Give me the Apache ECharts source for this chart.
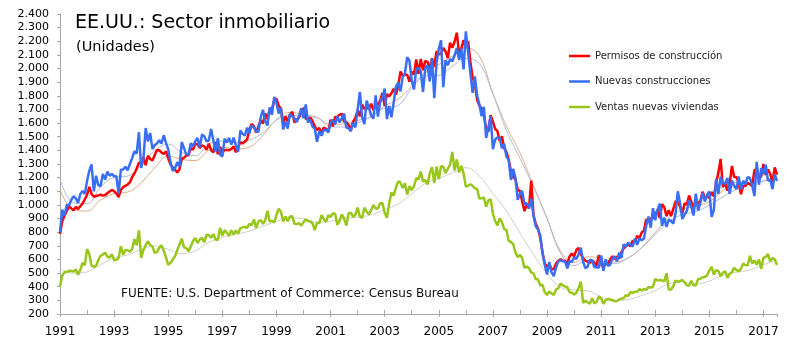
<!DOCTYPE html>
<html>
<head>
<meta charset="utf-8">
<script src="https://cdn.jsdelivr.net/npm/echarts@6/dist/echarts.min.js"></script>
<style>
  html, body { margin: 0; padding: 0; background: #fff; }
  #main { width: 800px; height: 351px; }
</style>
</head>
<body>
<div id="main"></div>
<script>
// datos mensuales, ene 1991 - jul 2017 (miles, tasa anualizada)
const inicio = 1991;

const permisos = [
  786, 880, 920, 955, 990, 975, 960, 985, 970, 990, 1010, 1040,
  1073, 1133, 1080, 1060, 1065, 1070, 1075, 1068, 1072, 1085, 1098, 1110,
  1100, 1085, 1058, 1110, 1130, 1140, 1150, 1165, 1205, 1230, 1265, 1310,
  1308, 1350, 1292, 1361, 1337, 1325, 1364, 1403, 1401, 1385, 1373, 1393,
  1341, 1298, 1274, 1259, 1238, 1262, 1336, 1347, 1361, 1366, 1417, 1405,
  1448, 1444, 1418, 1436, 1429, 1404, 1449, 1402, 1385, 1459, 1372, 1426,
  1380, 1402, 1402, 1401, 1410, 1429, 1386, 1423, 1460, 1450, 1465, 1481,
  1551, 1593, 1578, 1530, 1576, 1620, 1597, 1670, 1629, 1700, 1702, 1763,
  1780, 1726, 1707, 1597, 1650, 1612, 1662, 1684, 1604, 1624, 1642, 1677,
  1712, 1632, 1628, 1641, 1615, 1575, 1548, 1564, 1529, 1567, 1558, 1536,
  1625, 1576, 1644, 1645, 1662, 1667, 1611, 1607, 1586, 1553, 1611, 1639,
  1693, 1650, 1736, 1703, 1713, 1705, 1742, 1695, 1735, 1738, 1763, 1821,
  1726, 1813, 1796, 1819, 1852, 1809, 1871, 1978, 1946, 1955, 1954, 1904,
  1977, 1957, 2066, 1962, 2070, 1987, 2057, 2048, 2001, 2075, 2014, 2126,
  2107, 2107, 2152, 2126, 2077, 2189, 2153, 2196, 2263, 2106, 2147, 2208,
  2155, 2201, 2050, 1933, 1888, 1770, 1729, 1707, 1655, 1560, 1538, 1658,
  1611, 1558, 1541, 1469, 1503, 1417, 1387, 1333, 1246, 1206, 1187, 1112,
  1101, 1026, 954, 1002, 974, 1179, 923, 861, 827, 758, 651, 570,
  547, 567, 530, 529, 570, 590, 602, 590, 590, 568, 622, 644,
  621, 669, 684, 637, 607, 591, 584, 575, 592, 576, 555, 632,
  569, 537, 577, 566, 600, 624, 601, 621, 606, 653, 682, 697,
  710, 696, 738, 728, 774, 754, 799, 810, 894, 872, 899, 903,
  925, 964, 904, 1005, 985, 918, 961, 918, 970, 1027, 1023, 986,
  937, 1012, 1001, 1069, 1023, 969, 1047, 1008, 1029, 1097, 1052, 1060,
  1053, 1095, 1062, 1164, 1235, 1337, 1130, 1161, 1105, 1150, 1286, 1204,
  1204, 1161, 1078, 1139, 1138, 1160, 1152, 1139, 1254, 1262, 1188, 1212,
  1300, 1219, 1260, 1228, 1168, 1275, 1223
];

const construcciones = [
  798, 965, 921, 1001, 996, 1036, 1063, 1049, 1015, 1079, 1103, 1079,
  1176, 1250, 1297, 1099, 1214, 1145, 1139, 1226, 1186, 1244, 1214, 1227,
  1210, 1210, 1083, 1258, 1260, 1280, 1254, 1300, 1343, 1392, 1376, 1533,
  1272, 1337, 1564, 1465, 1526, 1409, 1439, 1450, 1474, 1450, 1511, 1455,
  1407, 1316, 1249, 1267, 1314, 1281, 1461, 1416, 1369, 1369, 1452, 1431,
  1467, 1491, 1424, 1516, 1504, 1467, 1472, 1557, 1475, 1392, 1489, 1370,
  1355, 1486, 1457, 1492, 1442, 1494, 1437, 1390, 1546, 1520, 1510, 1566,
  1525, 1584, 1567, 1540, 1536, 1641, 1698, 1614, 1582, 1715, 1660, 1792,
  1748, 1670, 1710, 1553, 1611, 1559, 1669, 1648, 1635, 1608, 1648, 1708,
  1636, 1737, 1604, 1626, 1575, 1559, 1463, 1541, 1507, 1549, 1551, 1532,
  1600, 1625, 1590, 1649, 1605, 1636, 1670, 1567, 1562, 1540, 1602, 1568,
  1698, 1829, 1642, 1592, 1764, 1717, 1655, 1633, 1804, 1648, 1753, 1788,
  1853, 1629, 1726, 1643, 1751, 1867, 1897, 1833, 1939, 1967, 2083, 2057,
  1911, 1846, 1998, 2003, 1981, 1828, 2002, 2024, 1905, 2072, 1782, 2042,
  2144, 2207, 1864, 2061, 2025, 2068, 2054, 2095, 2151, 2065, 2147, 1994,
  2273, 2119, 1969, 1821, 1942, 1802, 1737, 1650, 1720, 1491, 1570, 1649,
  1409, 1480, 1495, 1490, 1415, 1448, 1354, 1330, 1183, 1264, 1197, 1037,
  1084, 1103, 1005, 1013, 973, 1046, 923, 844, 820, 777, 645, 560,
  490, 582, 505, 478, 540, 585, 594, 586, 585, 534, 588, 581,
  614, 604, 636, 687, 583, 536, 546, 599, 594, 543, 545, 539,
  630, 517, 600, 554, 561, 608, 623, 585, 650, 610, 711, 694,
  723, 704, 695, 753, 708, 757, 740, 754, 847, 915, 833, 976,
  888, 962, 1010, 847, 907, 839, 893, 883, 863, 936, 1100, 1012,
  897, 929, 955, 1033, 984, 922, 1083, 958, 1015, 1089, 1025, 1075,
  1098, 912, 964, 1190, 1082, 1208, 1158, 1156, 1197, 1082, 1179, 1141,
  1114, 1208, 1113, 1177, 1150, 1203, 1197, 1142, 1065, 1316, 1148, 1270,
  1226, 1295, 1178, 1183, 1116, 1223, 1176
];

const ventas = [
  401, 482, 507, 508, 517, 516, 511, 526, 487, 524, 575, 558,
  676, 639, 554, 546, 554, 596, 627, 636, 650, 621, 614, 639,
  595, 597, 612, 697, 635, 670, 667, 656, 677, 749, 703, 813,
  611, 669, 705, 733, 707, 694, 648, 654, 685, 704, 666, 616,
  560, 576, 600, 623, 667, 710, 753, 689, 683, 661, 694, 735,
  757, 720, 747, 758, 726, 782, 780, 759, 786, 746, 742, 831,
  773, 816, 797, 773, 814, 784, 813, 790, 830, 835, 839, 832,
  860, 852, 894, 830, 879, 889, 862, 885, 957, 878, 883, 871,
  927, 973, 949, 878, 915, 880, 915, 917, 861, 860, 866, 848,
  872, 894, 882, 879, 864, 816, 868, 867, 925, 896, 875, 925,
  911, 937, 936, 854, 883, 930, 900, 848, 937, 943, 913, 927,
  980, 915, 905, 979, 952, 930, 960, 999, 973, 974, 1012, 1014,
  943, 906, 1010, 1091, 1067, 1128, 1173, 1165, 1124, 1159, 1077, 1138,
  1108, 1137, 1196, 1188, 1244, 1172, 1182, 1150, 1233, 1276, 1161, 1281,
  1189, 1283, 1281, 1233, 1265, 1296, 1389, 1253, 1333, 1239, 1286, 1232,
  1134, 1140, 1152, 1140, 1122, 1117, 1047, 1049, 1054, 986, 1033, 1041,
  937, 880, 849, 901, 873, 823, 816, 736, 728, 713, 651, 617,
  633, 610, 537, 549, 536, 504, 500, 454, 454, 409, 414, 359,
  339, 365, 351, 339, 379, 389, 423, 410, 402, 397, 359, 356,
  343, 355, 391, 437, 281, 297, 286, 275, 316, 278, 290, 328,
  314, 275, 302, 310, 306, 301, 294, 295, 305, 313, 315, 339,
  332, 361, 354, 364, 363, 382, 372, 384, 377, 398, 395, 398,
  457, 445, 449, 446, 439, 500, 377, 380, 404, 445, 437, 441,
  451, 433, 410, 407, 444, 409, 411, 456, 458, 470, 472, 483,
  520, 545, 489, 522, 515, 476, 504, 512, 465, 494, 506, 538,
  525, 512, 532, 569, 559, 558, 627, 571, 593, 561, 600, 532,
  612, 619, 639, 586, 611, 599, 560
];

// medias moviles 12 meses (lineas finas), leidas cada semestre
const mmFechas = [
  '1991-01', '1991-07', '1992-01', '1992-07', '1993-01', '1993-07', '1994-01', '1994-07',
  '1995-01', '1995-07', '1996-01', '1996-07', '1997-01', '1997-07', '1998-01', '1998-07',
  '1999-01', '1999-07', '2000-01', '2000-07', '2001-01', '2001-07', '2002-01', '2002-07',
  '2003-01', '2003-07', '2004-01', '2004-07', '2005-01', '2005-07', '2006-01', '2006-07',
  '2007-01', '2007-07', '2008-01', '2008-07', '2009-01', '2009-07', '2010-01', '2010-07',
  '2011-01', '2011-07', '2012-01', '2012-07', '2013-01', '2013-07', '2014-01', '2014-07',
  '2015-01', '2015-07', '2016-01', '2016-07', '2017-01', '2017-07'
];
const mmPermisos = [
  1111, 964, 955, 1036, 1083, 1094, 1162, 1272, 1358, 1333, 1325, 1401, 1423, 1410, 1424, 1509,
  1626, 1678, 1664, 1642, 1592, 1594, 1619, 1650, 1725, 1776, 1869, 1969, 2029, 2090, 2153, 2090,
  1820, 1579, 1381, 1142, 902, 661, 579, 619, 610, 582, 611, 688, 798, 906, 966, 991,
  1025, 1103, 1165, 1160, 1174, 1221
];
const mmConstrucciones = [
  1193, 1015, 1009, 1131, 1201, 1211, 1292, 1397, 1446, 1384, 1361, 1447, 1469, 1457, 1474, 1530,
  1621, 1659, 1647, 1638, 1573, 1571, 1601, 1646, 1710, 1729, 1854, 1945, 1950, 2016, 2073, 2036,
  1812, 1546, 1342, 1133, 900, 646, 554, 594, 586, 570, 612, 685, 784, 877, 929, 951,
  997, 1059, 1114, 1157, 1175, 1197
];
const mmVentas = [
  534, 499, 509, 562, 613, 633, 673, 699, 674, 643, 663, 726, 761, 784, 808, 845,
  878, 905, 899, 873, 880, 901, 910, 927, 966, 1006, 1082, 1157, 1194, 1236, 1273, 1211,
  1085, 956, 794, 636, 497, 396, 376, 371, 324, 299, 306, 335, 373, 422, 435, 420,
  442, 485, 507, 523, 562, 596
];

const nombres = ['Permisos de construcción', 'Nuevas construcciones', 'Ventas nuevas viviendas'];

// eje x en años decimales
function mensual(valores) {
  return valores.map((v, i) => [inicio + i / 12, v]);
}
function semestral(valores) {
  return valores.map((v, i) => {
    const p = mmFechas[i].split('-');
    return [+p[0] + (+p[1] - 1) / 12, v];
  });
}
function miles(v) {
  if (v < 1000) return String(v);
  const r = v % 1000;
  return Math.floor(v / 1000) + '.' + String(r).padStart(3, '0');
}

const fuente = 'DejaVu Sans';
const chart = echarts.init(document.getElementById('main'));

chart.setOption({
  animation: false,
  grid: { left: 60, right: 23, top: 14, bottom: 37 },
  legend: {
    data: nombres,
    orient: 'vertical',
    left: 569,
    top: 51,
    padding: 0,
    icon: 'rect',
    itemWidth: 21,
    itemHeight: 2.5,
    itemGap: 15.5,
    textStyle: { fontFamily: fuente, fontSize: 10, color: '#222' }
  },
  xAxis: [
    {
      type: 'value',
      min: 1991,
      max: 2017.5,
      interval: 1,
      axisLine: { lineStyle: { color: '#a6a6a6', width: 1 } },
      axisTick: { inside: true, length: 4, lineStyle: { color: '#a6a6a6' } },
      axisLabel: {
        margin: 12,
        fontFamily: fuente,
        fontSize: 12,
        color: '#000',
        showMaxLabel: false,
        formatter: v => (v % 2 === 1 ? String(v) : '')
      },
      splitLine: { show: false }
    },
    {
      // marcas largas en los años con etiqueta
      type: 'value',
      position: 'bottom',
      min: 1991,
      max: 2017.5,
      interval: 2,
      axisLine: { show: false },
      axisTick: { inside: false, length: 3, lineStyle: { color: '#a6a6a6' } },
      axisLabel: { show: false },
      splitLine: { show: false }
    }
  ],
  yAxis: {
    type: 'value',
    min: 200,
    max: 2400,
    interval: 100,
    axisLine: { show: true, lineStyle: { color: '#a6a6a6', width: 1 } },
    axisTick: { show: true, length: 3, lineStyle: { color: '#a6a6a6' } },
    axisLabel: { margin: 11, fontFamily: fuente, fontSize: 11, color: '#000', formatter: miles },
    splitLine: { show: false }
  },
  graphic: [
    {
      type: 'text', x: 75, y: 23,
      style: { text: 'EE.UU.: Sector inmobiliario', fontFamily: fuente, fontSize: 19, fill: '#000', textVerticalAlign: 'middle' }
    },
    {
      type: 'text', x: 76, y: 47,
      style: { text: '(Unidades)', fontFamily: fuente, fontSize: 14.5, fill: '#000', textVerticalAlign: 'middle' }
    },
    {
      type: 'text', x: 121, y: 294,
      style: { text: 'FUENTE: U.S. Department of Commerce: Census Bureau', fontFamily: fuente, fontSize: 12, fill: '#111', textVerticalAlign: 'middle' }
    }
  ],
  series: [
    {
      name: 'mm1', type: 'line', smooth: 0.4, symbol: 'none', silent: true,
      lineStyle: { color: '#dcae8c', width: 1 }, data: semestral(mmPermisos)
    },
    {
      name: 'mm2', type: 'line', smooth: 0.4, symbol: 'none', silent: true,
      lineStyle: { color: '#aebbd6', width: 1 }, data: semestral(mmConstrucciones)
    },
    {
      name: 'mm3', type: 'line', smooth: 0.4, symbol: 'none', silent: true,
      lineStyle: { color: '#cfcfc6', width: 1 }, data: semestral(mmVentas)
    },
    {
      name: nombres[0], type: 'line', symbol: 'none', color: '#ff0000',
      lineStyle: { width: 2.5 }, data: mensual(permisos)
    },
    {
      name: nombres[1], type: 'line', symbol: 'none', color: '#3a6ef5',
      lineStyle: { width: 2.5 }, data: mensual(construcciones)
    },
    {
      name: nombres[2], type: 'line', symbol: 'none', color: '#99c61a',
      lineStyle: { width: 2.5 }, data: mensual(ventas)
    }
  ]
});
</script>
</body>
</html>
